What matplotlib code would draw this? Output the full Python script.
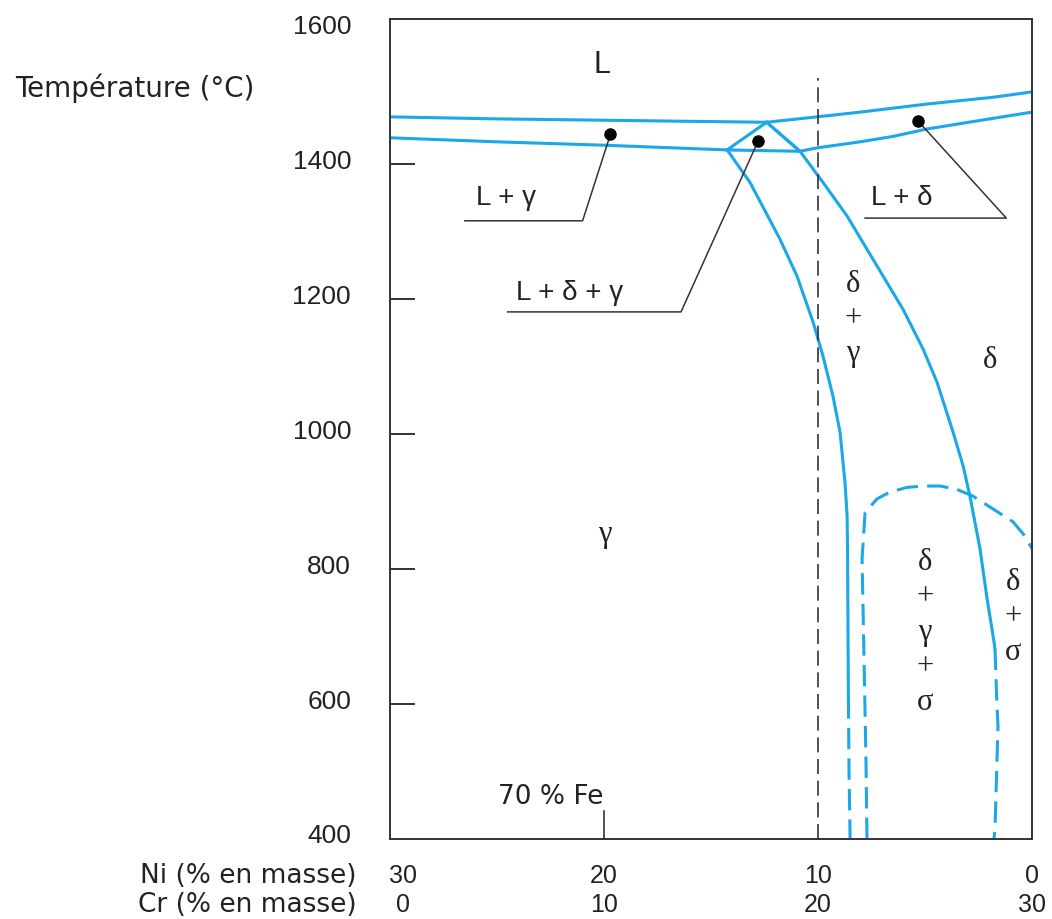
import matplotlib
matplotlib.use("Agg")
import matplotlib.pyplot as plt
from matplotlib import font_manager
from matplotlib import transforms

# Diagramme pseudo-binaire Fe-Cr-Ni à 70 % Fe (Ni en abscisse, axe inversé)
BLUE = "#1ba8e8"
INK = "#333333"
TXT = "#222222"

names = {f.name for f in font_manager.fontManager.ttflist}
SANS = "Liberation Sans" if "Liberation Sans" in names else "DejaVu Sans"
WIDE = "DejaVu Sans"
SERIF = "Liberation Serif" if "Liberation Serif" in names else "DejaVu Serif"

# liquidus côté gamma puis côté delta
liq_gamma_ni = [30, 25, 20, 15, 12.4]
liq_gamma_t = [1470, 1467, 1465, 1463, 1462]
liq_delta_ni = [12.4, 10.05, 8.04, 4.91, 1.82, 0]
liq_delta_t = [1462, 1470, 1477, 1489, 1499, 1507]

# solidus gamma, triangle L+delta+gamma, solidus delta
sol_gamma_ni = [30, 25, 20, 14.25]
sol_gamma_t = [1439, 1433, 1428, 1421]
tri_ni = [14.25, 12.4, 10.84, 14.25]
tri_t = [1421, 1462, 1419, 1421]
sol_delta_ni = [10.84, 10.05, 8.04, 6.5, 4.91, 2.57, 0]
sol_delta_t = [1419, 1424, 1433, 1441, 1452, 1464, 1477]

# frontière gamma / gamma+delta
gd_ni = [14.25, 14.11, 13.18, 11.78, 10.98, 10.23, 9.77, 9.3, 8.97, 8.74, 8.64, 8.62, 8.6, 8.58]
gd_t = [1421, 1415, 1373, 1289, 1234, 1166, 1116, 1056, 1003, 929, 879, 830, 720, 610]
gd_dash_ni = [8.58, 8.55, 8.5]
gd_dash_t = [610, 500, 400]

# frontière gamma+delta / delta
dd_ni = [12.4, 10.84, 9.77, 8.64, 7.43, 6.03, 5.09, 4.44, 3.69, 3.22, 2.9, 2.43, 2.1, 1.82, 1.73]
dd_t = [1462, 1419, 1373, 1323, 1259, 1185, 1126, 1077, 1003, 953, 908, 830, 756, 701, 682]
dd_dash_ni = [1.73, 1.64, 1.59, 1.73, 1.78]
dd_dash_t = [682, 600, 567, 415, 400]

# domaine sigma (pointillés)
sig_ni = [7.71, 7.76, 7.85, 7.94, 7.8, 7.24, 6.64, 5.84, 5.09, 4.3, 3.5, 2.76, 1.82, 0.89, 0.33, 0.0]
sig_t = [400, 519, 667, 815, 884, 904, 914, 921, 923, 923, 918, 908, 889, 870, 849, 830]

# repères (texte, position du texte, soulignement puis point)
leaders = [
    ("L + γ", (24.6, 1351), [(26.5, 1316), (21.0, 1316), (19.7, 1444)]),
    ("L + δ + γ", (21.6, 1210), [(24.5, 1181), (16.4, 1181), (12.8, 1434)]),
    ("L + δ", (6.1, 1351), [(7.8, 1320), (1.2, 1320), (5.33, 1464)]),
]

phase_labels = [
    ("L", 20.1, 1549, SANS),
    ("γ", 19.95, 852, SERIF),
    ("δ", 1.96, 1111, SERIF),
    ("δ\n+\nγ", 8.36, 1172, SERIF),
    ("δ\n+\nγ\n+\nσ", 5.0, 708, SERIF),
    ("δ\n+\nσ", 0.89, 730, SERIF),
]

y_ticks = [400, 600, 800, 1000, 1200, 1400, 1600]
ni_ticks = [30, 20, 10, 0]
cr_ticks = [0, 10, 20, 30]

fig = plt.figure(figsize=(10.52, 9.2), dpi=100)
ax = fig.add_axes([0.3707, 0.08696, 0.6103, 0.8913])
ax.set_xlim(30, 0)
ax.set_ylim(400, 1615)

lw = 2.2
dash = (7, 3)
ax.plot(liq_gamma_ni, liq_gamma_t, color=BLUE, lw=lw)
ax.plot(liq_delta_ni, liq_delta_t, color=BLUE, lw=lw)
ax.plot(sol_gamma_ni, sol_gamma_t, color=BLUE, lw=lw)
ax.plot(tri_ni, tri_t, color=BLUE, lw=lw)
ax.plot(sol_delta_ni, sol_delta_t, color=BLUE, lw=lw)
ax.plot(gd_ni, gd_t, color=BLUE, lw=lw)
ax.plot(gd_dash_ni, gd_dash_t, color=BLUE, lw=lw, dashes=dash)
ax.plot(dd_ni, dd_t, color=BLUE, lw=lw)
ax.plot(dd_dash_ni, dd_dash_t, color=BLUE, lw=lw, dashes=dash)
ax.plot(sig_ni, sig_t, color=BLUE, lw=lw, dashes=dash)

# ligne 70 % Fe / 10 % Ni
ax.plot([10, 10], [400, 1527], color=INK, lw=1.2, dashes=(9, 4))

for text, (tx, ty), pts in leaders:
    xs = [p[0] for p in pts]
    ys = [p[1] for p in pts]
    ax.plot(xs, ys, color=INK, lw=1.1)
    ax.plot(xs[-1], ys[-1], "o", color="black", ms=8)
    ax.text(tx, ty, text, fontsize=20, family=[SANS], ha="center", va="center", color=TXT)

for text, x, y, fam in phase_labels:
    ax.text(x, y, text, fontsize=22, family=[fam, SANS], ha="center", va="center",
            linespacing=1.27, color=TXT)

ax.plot([20, 20], [400, 441], color=INK, lw=1.2)
ax.text(22.5, 464, "70 % Fe", fontsize=19, family=[WIDE], ha="center", va="center", color=TXT)

for side in ["left", "right", "top", "bottom"]:
    ax.spines[side].set_color(INK)
    ax.spines[side].set_linewidth(1.4)

ax.set_yticks(y_ticks)
ax.set_yticklabels([str(t) for t in y_ticks], fontsize=19, family=SANS, color=TXT)
ax.tick_params(axis="y", direction="in", length=18, width=1.4, color=INK, pad=28)
ax.yaxis.get_major_ticks()[-1].tick1line.set_visible(False)
ax.yaxis.get_major_ticks()[0].tick1line.set_visible(False)
shift = transforms.ScaledTranslation(0, 6 / 100, fig.dpi_scale_trans)
for lab in ax.get_yticklabels():
    lab.set_transform(lab.get_transform() + shift)
ax.set_xticks([])

fig.text(15 / 1052, 1 - 88 / 920, "Température (°C)", fontsize=20, family=WIDE,
         ha="left", va="center", color=TXT)

row = transforms.blended_transform_factory(ax.transData, fig.transFigure)
first = transforms.ScaledTranslation(13 / 100, 0, fig.dpi_scale_trans)
fig.text(357 / 1052, 1 - 876 / 920, "Ni (% en masse)", fontsize=19, family=WIDE,
         ha="right", va="center", color=TXT)
fig.text(357 / 1052, 1 - 905 / 920, "Cr (% en masse)", fontsize=19, family=WIDE,
         ha="right", va="center", color=TXT)
for ni, cr in zip(ni_ticks, cr_ticks):
    tr = row + first if ni == 30 else row
    ax.text(ni, 1 - 876 / 920, str(ni), transform=tr, fontsize=18, family=SANS,
            ha="center", va="center", color=TXT)
    ax.text(ni, 1 - 905 / 920, str(cr), transform=tr, fontsize=18, family=SANS,
            ha="center", va="center", color=TXT)

fig.savefig("out.png", dpi=100)
